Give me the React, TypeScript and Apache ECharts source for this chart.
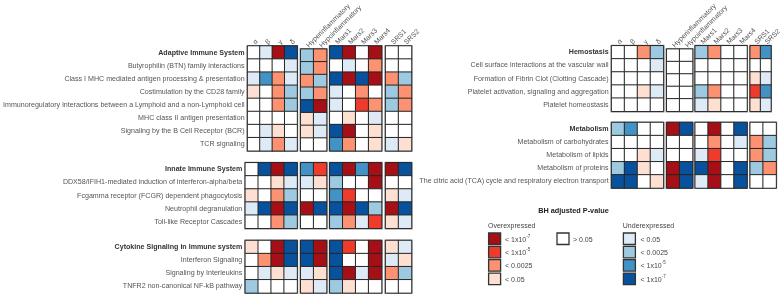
import React, { useEffect, useRef } from 'react';
import * as echarts from 'echarts';

const FONT = '"Liberation Sans", Arial, sans-serif';

const columns = ['α', 'β', 'γ', 'δ', 'Hyperinflammatory', 'Hypoinflammatory', 'Mars1', 'Mars2', 'Mars3', 'Mars4', 'SRS1', 'SRS2'];
const columnGroupSizes = [4, 2, 4, 2];

// value levels: 4 = over <1e-7, 3 = over <1e-5, 2 = over <0.0025, 1 = over <0.05,
// 0 = >0.05, -1..-4 = under (<0.05, <0.0025, <1e-5, <1e-7)
const adaptiveRows = [
  'Adaptive Immune System',
  'Butyrophilin (BTN) family interactions',
  'Class I MHC mediated antigen processing & presentation',
  'Costimulation by the CD28 family',
  'Immunoregulatory interactions between a Lymphoid and a non-Lymphoid cell',
  'MHC class II antigen presentation',
  'Signaling by the B Cell Receptor (BCR)',
  'TCR signaling',
];
const adaptiveValues = [
  [0, -1, 4, -4, -2, 2, -4, 4, 0, 4, 0, 0],
  [0, 0, 0, -1, -2, 2, 0, -1, 0, 2, 0, 0],
  [-1, -3, 2, -1, 2, -2, -4, 4, -4, 4, 2, -2],
  [1, 0, 2, -2, -2, 2, -1, 0, 2, 0, -2, 2],
  [0, 0, 2, -2, -4, 4, -1, 0, 3, 2, -2, 2],
  [0, 0, 0, 0, 1, -1, 0, 1, 0, -1, 0, 0],
  [0, -1, 1, 0, 1, -1, -4, 4, 0, 1, 0, 0],
  [0, -1, 2, -1, 0, 0, -3, 2, 0, 1, -1, 1],
];

const innateRows = [
  'Innate Immune System',
  'DDX58/IFIH1-mediated induction of interferon-alpha/beta',
  'Fcgamma receptor (FCGR) dependent phagocytosis',
  'Neutrophil degranulation',
  'Toll-like Receptor Cascades',
];
const innateValues = [
  [0, -4, 4, -4, -3, 3, -4, 4, -3, 4, 4, -4],
  [0, 0, 1, -1, -1, 1, -2, 0, 0, 4, 0, 0],
  [1, 0, 2, -2, 0, 0, -3, 3, 0, 0, 1, -1],
  [-1, -4, 4, -4, 4, -4, -4, 4, -4, -2, 4, -4],
  [0, 0, 2, -2, 0, 0, -2, 2, -1, 3, 1, -1],
];

const cytokineRows = [
  'Cytokine Signaling in Immune system',
  'Interferon Signaling',
  'Signaling by Interleukins',
  'TNFR2 non-canonical NF-kB pathway',
];
const cytokineValues = [
  [1, 0, 4, -4, -4, 4, -4, 3, 0, 4, 1, -1],
  [0, 2, 4, -4, -4, 4, -4, 0, 0, 4, -1, 1],
  [0, -1, 1, -1, -1, 1, -4, 4, -1, 4, 2, -2],
  [-2, 0, 0, 0, 1, -1, -2, 1, 0, 0, 0, 0],
];

const hemostasisRows = [
  'Hemostasis',
  'Cell surface interactions at the vascular wall',
  'Formation of Fibrin Clot (Clotting Cascade)',
  'Platelet activation, signaling and aggregation',
  'Platelet homeostasis',
];
const hemostasisValues = [
  [0, 0, 2, -2, 0, 0, -2, 2, 0, 0, 2, -3],
  [0, 0, 0, -1, 0, 0, 0, 0, 0, 0, 0, 0],
  [0, 0, 0, 0, 0, 0, 0, 0, 0, 0, 1, -1],
  [0, 0, 1, -1, 0, 0, -2, 2, 0, 0, 3, -3],
  [0, 0, 0, 0, 0, 0, -1, 1, 0, 0, 1, -1],
];

const metabolismRows = [
  'Metabolism',
  'Metabolism of carbohydrates',
  'Metabolism of lipids',
  'Metabolism of proteins',
  'The citric acid (TCA) cycle and respiratory electron transport',
];
const metabolismValues = [
  [-2, -3, 0, 0, 4, -4, 0, 4, 0, -4, 0, 0],
  [0, 0, 0, 0, 0, 0, 0, 2, 0, -1, 2, -2],
  [0, 0, 1, -1, 0, 0, -1, 3, 0, 0, 2, -2],
  [-2, -4, 1, 0, 4, -4, -4, 4, 0, -4, -2, 2],
  [-4, -4, 0, 1, 4, -4, -1, 4, 0, -4, 0, 0],
];

const headerRows = ['Adaptive Immune System', 'Innate Immune System', 'Cytokine Signaling in Immune system', 'Hemostasis', 'Metabolism'];

const levels = [4, 3, 2, 1, 0, -1, -2, -3, -4];
const levelColors = ['#a50f15', '#ef3b2c', '#fc9272', '#fee0d2', '#ffffff', '#deebf7', '#9ecae1', '#4292c6', '#08519c'];

const legendTitle = 'BH adjusted P-value';
const overTitle = 'Overexpressed';
const underTitle = 'Underexpressed';
const overLevels = [4, 3, 2, 1];
const overLabels = ['< 1x10{s|-7}', '< 1x10{s|-5}', '< 0.0025', '< 0.05'];
const neutralLabel = '> 0.05';
const underLevels = [-1, -2, -3, -4];
const underLabels = ['< 0.05', '< 0.0025', '< 1x10{s|-5}', '< 1x10{s|-7}'];

// layout
const CELL_W = 12.95;
const CELL_H = 13.1;
const panelGroupX = [
  [245.3, 300.7, 329.8, 385.6],
  [611.6, 666.7, 695.2, 750.2],
];
const sections = [
  { panel: 0, top: 46, rows: adaptiveRows, values: adaptiveValues, showCols: true },
  { panel: 0, top: 162.8, rows: innateRows, values: innateValues, showCols: false },
  { panel: 0, top: 240.5, rows: cytokineRows, values: cytokineValues, showCols: false },
  { panel: 1, top: 45.8, rows: hemostasisRows, values: hemostasisValues, showCols: true },
  { panel: 1, top: 122.5, rows: metabolismRows, values: metabolismValues, showCols: false },
];

function colorOf(v: number) {
  return levelColors[levels.indexOf(v)];
}

function buildOption() {
  const grid: any[] = [];
  const xAxis: any[] = [];
  const yAxis: any[] = [];
  const series: any[] = [];
  sections.forEach((sec) => {
    let colOffset = 0;
    columnGroupSizes.forEach((size, gi) => {
      const idx = grid.length;
      grid.push({
        left: panelGroupX[sec.panel][gi],
        top: sec.top,
        width: size * CELL_W,
        height: sec.rows.length * CELL_H,
        show: true,
        borderColor: '#9a9a9a',
        borderWidth: 2.2,
        backgroundColor: 'transparent',
      });
      xAxis.push({
        type: 'category',
        gridIndex: idx,
        data: columns.slice(colOffset, colOffset + size),
        position: 'top',
        axisLine: { show: false },
        axisTick: { show: false },
        splitLine: { show: false },
        axisLabel: {
          show: sec.showCols,
          rotate: -45,
          align: 'left',
          verticalAlign: 'middle',
          interval: 0,
          margin: 3,
          fontSize: 7,
          color: '#555555',
          fontFamily: FONT,
        },
      });
      yAxis.push({
        type: 'category',
        gridIndex: idx,
        data: sec.rows,
        inverse: true,
        axisLine: { show: false },
        axisTick: { show: false },
        splitLine: { show: false },
        axisLabel: {
          show: gi === 0,
          interval: 0,
          margin: 3,
          fontSize: 7.1,
          color: '#555555',
          fontFamily: FONT,
          formatter: (v: string) => (headerRows.includes(v) ? `{b|${v}}` : v),
          rich: { b: { fontWeight: 'bold', color: '#333333', fontSize: 7.1, fontFamily: FONT } },
        },
      });
      const data: any[] = [];
      sec.values.forEach((row, r) => {
        for (let c = 0; c < size; c++) data.push([c, r, row[colOffset + c]]);
      });
      series.push({
        type: 'heatmap',
        xAxisIndex: idx,
        yAxisIndex: idx,
        data,
        itemStyle: { borderColor: '#262626', borderWidth: 1 },
        emphasis: { disabled: true },
        label: { show: false },
      });
      colOffset += size;
    });
  });

  const graphic: any[] = [];
  const txt = (x: number, y: number, text: string, extra: any = {}) => ({
    type: 'text',
    x,
    y,
    style: {
      text,
      fontSize: 7,
      fontFamily: FONT,
      fill: '#444444',
      verticalAlign: 'middle',
      lineHeight: 11,
      rich: { s: { fontSize: 4.5, verticalAlign: 'top', lineHeight: 6, fill: '#444444', fontFamily: FONT } },
      ...extra,
    },
  });
  const box = (x: number, y: number, v: number) => ({
    type: 'rect',
    shape: { x, y, width: 12, height: 11.5 },
    style: { fill: colorOf(v), stroke: '#333', lineWidth: 1.3 },
  });
  graphic.push(txt(573.5, 210.5, legendTitle, { align: 'center', fontWeight: 'bold', fill: '#222222', fontSize: 7.3 }));
  graphic.push(txt(488, 225.5, overTitle));
  graphic.push(txt(622.8, 225.5, underTitle));
  const boxTop = 233;
  const pitch = 13.35;
  overLevels.forEach((v, i) => {
    graphic.push(box(488.6, boxTop + i * pitch, v));
    graphic.push(txt(505, boxTop + i * pitch + 6, overLabels[i]));
  });
  graphic.push(box(557, boxTop, 0));
  graphic.push(txt(573, boxTop + 6, neutralLabel));
  underLevels.forEach((v, i) => {
    graphic.push(box(623.4, boxTop + i * pitch, v));
    graphic.push(txt(640.5, boxTop + i * pitch + 6, underLabels[i]));
  });

  return {
    animation: false,
    backgroundColor: 'transparent',
    textStyle: { fontFamily: FONT },
    visualMap: {
      type: 'piecewise',
      show: false,
      dimension: 2,
      pieces: levels.map((v, i) => ({ value: v, color: levelColors[i] })),
    },
    grid,
    xAxis,
    yAxis,
    series,
    graphic,
  };
}

export default function App() {
  const ref = useRef<HTMLDivElement>(null);
  useEffect(() => {
    document.body.style.margin = '0';
    if (!ref.current) return;
    const chart = echarts.init(ref.current, undefined, { renderer: 'svg' });
    chart.setOption(buildOption() as any);
    return () => chart.dispose();
  }, []);
  return <div ref={ref} style={{ width: 782, height: 294, willChange: 'transform' }} />;
}
